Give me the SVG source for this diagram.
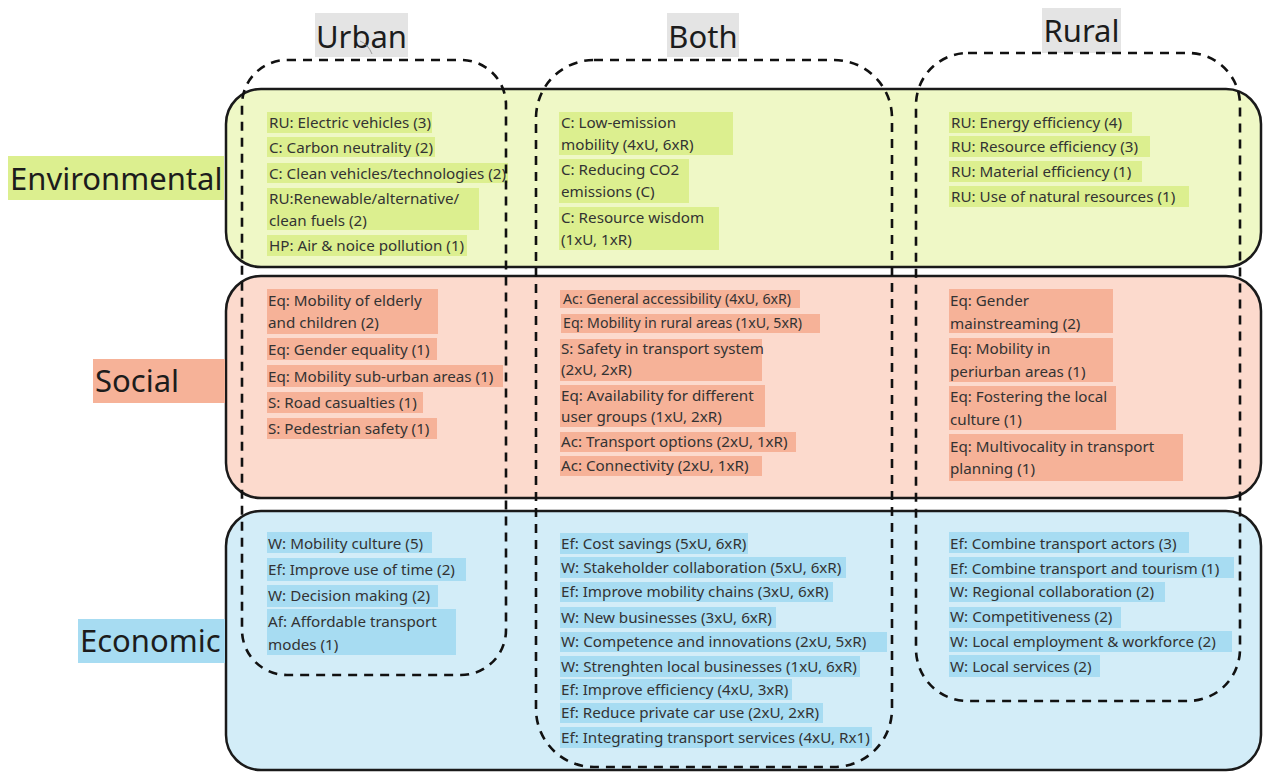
<svg xmlns="http://www.w3.org/2000/svg" width="1263" height="772" viewBox="0 0 1263 772">
<style>
.panel{stroke:#1a1a1a;stroke-width:2.5}
.env{fill:#eff8c6}.soc{fill:#fcdacd}.eco{fill:#d3edf8}
.henv{fill:#dcef8f}.hsoc{fill:#f6b298}.heco{fill:#a7dcf2}
.hdr{fill:#e4e4e4}
.big{font-family:"Noto Sans","Open Sans","Liberation Sans",sans-serif;font-size:31px;fill:#1c1c1c}
.it{font-family:"Noto Sans","Open Sans","Liberation Sans",sans-serif;font-size:15.2px;fill:#333}
.sm{font-size:14.2px}
.dash{fill:none;stroke:#111;stroke-width:2.6;stroke-dasharray:9 7}
</style>
<rect width="1263" height="772" fill="#fff"/>
<g id="panel-environmental"><rect class="panel env" x="226" y="89" width="1035" height="178" rx="35"/></g>
<g id="panel-social"><rect class="panel soc" x="226" y="276" width="1035" height="222" rx="35"/></g>
<g id="panel-economic"><rect class="panel eco" x="226" y="511" width="1035" height="259" rx="35"/></g>

<g id="label-environmental"><rect class="henv" x="8" y="156" width="216" height="44"/><text class="big" x="10" y="190">Environmental</text></g>
<g id="label-social"><rect class="hsoc" x="93" y="359" width="132" height="44"/><text class="big" x="95" y="392">Social</text></g>
<g id="label-economic"><rect class="heco" x="78" y="619" width="147" height="44"/><text class="big" x="80" y="652">Economic</text></g>

<g id="header-urban"><rect class="hdr" x="315" y="13" width="93" height="44"/><text class="big" x="361.5" y="48" text-anchor="middle">Urban</text><path d="M360 41 Q368 44 372 54" fill="none" stroke="#888" stroke-width="0.8"/></g>
<g id="header-both"><rect class="hdr" x="667" y="13" width="72" height="44"/><text class="big" x="703" y="48" text-anchor="middle">Both</text></g>
<g id="header-rural"><rect class="hdr" x="1042" y="8" width="79" height="45"/><text class="big" x="1081.5" y="42" text-anchor="middle">Rural</text></g>

<g id="env-urban" class="it">
<rect class="henv" x="267" y="112" width="165" height="21"/><text x="269" y="128">RU: Electric vehicles (3)</text>
<rect class="henv" x="267" y="137" width="168" height="20"/><text x="269" y="153">C: Carbon neutrality (2)</text>
<rect class="henv" x="267" y="163" width="241" height="20"/><text x="269" y="179">C: Clean vehicles/technologies (2)</text>
<rect class="henv" x="267" y="188" width="212" height="42"/><text x="269" y="204">RU:Renewable/alternative/</text><text x="269" y="226">clean fuels (2)</text>
<rect class="henv" x="267" y="235" width="200" height="21"/><text x="269" y="251">HP: Air &amp; noice pollution (1)</text>
</g>
<g id="env-both" class="it">
<rect class="henv" x="559" y="112" width="174" height="43"/><text x="561" y="128">C: Low-emission</text><text x="561" y="150">mobility (4xU, 6xR)</text>
<rect class="henv" x="559" y="159" width="130" height="44"/><text x="561" y="175">C: Reducing CO2</text><text x="561" y="197">emissions (C)</text>
<rect class="henv" x="559" y="207" width="160" height="43"/><text x="561" y="223">C: Resource wisdom</text><text x="561" y="245">(1xU, 1xR)</text>
</g>
<g id="env-rural" class="it">
<rect class="henv" x="949" y="112" width="183" height="21"/><text x="951" y="128">RU: Energy efficiency (4)</text>
<rect class="henv" x="949" y="136" width="201" height="21"/><text x="951" y="152">RU: Resource efficiency (3)</text>
<rect class="henv" x="949" y="161" width="193" height="21"/><text x="951" y="177">RU: Material efficiency (1)</text>
<rect class="henv" x="949" y="186" width="240" height="21"/><text x="951" y="202">RU: Use of natural resources (1)</text>
</g>

<g id="soc-urban" class="it">
<rect class="hsoc" x="267" y="289" width="171" height="45"/><text x="268" y="306">Eq: Mobility of elderly</text><text x="268" y="328">and children (2)</text>
<rect class="hsoc" x="267" y="338" width="170" height="22"/><text x="268" y="355">Eq: Gender equality (1)</text>
<rect class="hsoc" x="267" y="365" width="236" height="22"/><text x="268" y="382">Eq: Mobility sub-urban areas (1)</text>
<rect class="hsoc" x="267" y="392" width="156" height="21"/><text x="268" y="408">S: Road casualties (1)</text>
<rect class="hsoc" x="267" y="418" width="170" height="21"/><text x="268" y="434">S: Pedestrian safety (1)</text>
</g>
<g id="soc-both" class="it">
<rect class="hsoc" x="560" y="290" width="240" height="18"/><text class="sm" x="563" y="304">Ac: General accessibility (4xU, 6xR)</text>
<rect class="hsoc" x="561" y="314" width="259" height="19"/><text class="sm" x="563" y="328">Eq: Mobility in rural areas (1xU, 5xR)</text>
<rect class="hsoc" x="560" y="339" width="202" height="42"/><text x="561" y="354">S: Safety in transport system</text><text x="561" y="375">(2xU, 2xR)</text>
<rect class="hsoc" x="560" y="385" width="205" height="42"/><text x="561" y="401">Eq: Availability for different</text><text x="561" y="422">user groups (1xU, 2xR)</text>
<rect class="hsoc" x="560" y="432" width="236" height="20"/><text x="561" y="447">Ac: Transport options (2xU, 1xR)</text>
<rect class="hsoc" x="560" y="456" width="202" height="20"/><text x="561" y="471">Ac: Connectivity (2xU, 1xR)</text>
</g>
<g id="soc-rural" class="it">
<rect class="hsoc" x="949" y="289" width="164" height="44"/><text x="950" y="306">Eq: Gender</text><text x="950" y="329">mainstreaming (2)</text>
<rect class="hsoc" x="949" y="338" width="164" height="44"/><text x="950" y="354">Eq: Mobility in</text><text x="950" y="377">periurban areas (1)</text>
<rect class="hsoc" x="949" y="386" width="167" height="44"/><text x="950" y="402">Eq: Fostering the local</text><text x="950" y="425">culture (1)</text>
<rect class="hsoc" x="949" y="434" width="234" height="47"/><text x="950" y="452">Eq: Multivocality in transport</text><text x="950" y="474">planning (1)</text>
</g>

<g id="eco-urban" class="it">
<rect class="heco" x="267" y="532" width="165" height="21"/><text x="268" y="549">W: Mobility culture (5)</text>
<rect class="heco" x="267" y="558" width="199" height="23"/><text x="268" y="575">Ef: Improve use of time (2)</text>
<rect class="heco" x="267" y="585" width="171" height="22"/><text x="268" y="601">W: Decision making (2)</text>
<rect class="heco" x="267" y="609" width="189" height="46"/><text x="268" y="627">Af: Affordable transport</text><text x="268" y="650">modes (1)</text>
</g>
<g id="eco-both" class="it">
<rect class="heco" x="560" y="533" width="188" height="21"/><text x="561" y="549">Ef: Cost savings (5xU, 6xR)</text>
<rect class="heco" x="560" y="557" width="286" height="21"/><text x="561" y="573">W: Stakeholder collaboration (5xU, 6xR)</text>
<rect class="heco" x="560" y="582" width="273" height="20"/><text x="561" y="597">Ef: Improve mobility chains (3xU, 6xR)</text>
<rect class="heco" x="560" y="607" width="216" height="21"/><text x="561" y="623">W: New businesses (3xU, 6xR)</text>
<rect class="heco" x="560" y="632" width="327" height="20"/><text x="561" y="647">W: Competence and innovations (2xU, 5xR)</text>
<rect class="heco" x="560" y="656" width="300" height="21"/><text x="561" y="672">W: Strenghten local businesses (1xU, 6xR)</text>
<rect class="heco" x="560" y="679" width="232" height="21"/><text x="561" y="695">Ef: Improve efficiency (4xU, 3xR)</text>
<rect class="heco" x="560" y="703" width="263" height="20"/><text x="561" y="718">Ef: Reduce private car use (2xU, 2xR)</text>
<rect class="heco" x="560" y="727" width="312" height="21"/><text x="561" y="743">Ef: Integrating transport services (4xU, Rx1)</text>
</g>
<g id="eco-rural" class="it">
<rect class="heco" x="949" y="532" width="240" height="21"/><text x="950" y="549">Ef: Combine transport actors (3)</text>
<rect class="heco" x="949" y="557" width="285" height="21"/><text x="950" y="574">Ef: Combine transport and tourism (1)</text>
<rect class="heco" x="949" y="582" width="216" height="20"/><text x="950" y="597">W: Regional collaboration (2)</text>
<rect class="heco" x="949" y="607" width="172" height="21"/><text x="950" y="622">W: Competitiveness (2)</text>
<rect class="heco" x="949" y="631" width="283" height="21"/><text x="950" y="647">W: Local employment &amp; workforce (2)</text>
<rect class="heco" x="949" y="655" width="151" height="22"/><text x="950" y="672">W: Local services (2)</text>
</g>

<g id="connectors">
<rect id="region-urban" class="dash" x="242" y="60" width="264" height="615" rx="45"/>
<rect id="region-both" class="dash" x="536" y="60" width="356" height="707" rx="58"/>
<rect id="region-rural" class="dash" x="916" y="53" width="324" height="648" rx="52"/>
</g>
</svg>
